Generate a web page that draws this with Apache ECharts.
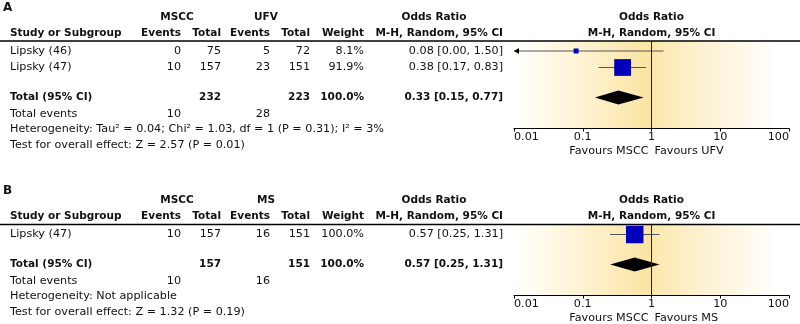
<!DOCTYPE html>
<html>
<head>
<meta charset="utf-8">
<script src="https://cdn.jsdelivr.net/npm/echarts@6/dist/echarts.min.js"></script>
<style>
html, body { margin: 0; padding: 0; background: #fff; }
#chart { width: 800px; height: 324px; }
</style>
</head>
<body>
<div id="chart"></div>
<script>
// ---- panel A: MSCC vs UFV ----
const studiesA = ['Lipsky (46)', 'Lipsky (47)'];
const msccEventsA = [0, 10];
const msccTotalA = [75, 157];
const ufvEventsA = [5, 23];
const ufvTotalA = [72, 151];
const weightA = [8.1, 91.9];
const orA = [0.08, 0.38];
const lowerA = [0.00, 0.17];
const upperA = [1.50, 0.83];
const pooledA = [0.33, 0.15, 0.77];
const sumTotalA = [232, 223];
const sumEventsA = [10, 28];
const hetA = 'Heterogeneity: Tau² = 0.04; Chi² = 1.03, df = 1 (P = 0.31); I² = 3%';
const testA = 'Test for overall effect: Z = 2.57 (P = 0.01)';

// ---- panel B: MSCC vs MS ----
const studiesB = ['Lipsky (47)'];
const msccEventsB = [10];
const msccTotalB = [157];
const msEventsB = [16];
const msTotalB = [151];
const weightB = [100.0];
const orB = [0.57];
const lowerB = [0.25];
const upperB = [1.31];
const pooledB = [0.57, 0.25, 1.31];
const sumTotalB = [157, 151];
const sumEventsB = [10, 16];
const hetB = 'Heterogeneity: Not applicable';
const testB = 'Test for overall effect: Z = 1.32 (P = 0.19)';

const axisTicks = [0.01, 0.1, 1, 10, 100];

const AXIS_MIN = 0.01, AXIS_MAX = 100;
const PLOT_LEFT = 514, PLOT_WIDTH = 275;
const FONT = '11.2px "DejaVu Sans", sans-serif';
const BOLD = 'bold 10.5px "DejaVu Sans", sans-serif';

// column x positions (right aligned)
const COL = { study: 10, ev1: 181, tot1: 221, ev2: 270, tot2: 310, weight: 364, or: 503 };

const panels = [
    {
        letter: 'A', ruleY: 41, group2: 'UFV',
        studies: studiesA, ev1: msccEventsA, tot1: msccTotalA, ev2: ufvEventsA, tot2: ufvTotalA,
        weight: weightA, or: orA, lo: lowerA, hi: upperA, pooled: pooledA,
        sumTotal: sumTotalA, sumEvents: sumEventsA, het: hetA, test: testA
    },
    {
        letter: 'B', ruleY: 224.5, group2: 'MS',
        studies: studiesB, ev1: msccEventsB, tot1: msccTotalB, ev2: msEventsB, tot2: msTotalB,
        weight: weightB, or: orB, lo: lowerB, hi: upperB, pooled: pooledB,
        sumTotal: sumTotalB, sumEvents: sumEventsB, het: hetB, test: testB
    }
];

function fmt2(v) { return v.toFixed(2); }
function ciText(or, lo, hi) { return fmt2(or) + ' [' + fmt2(lo) + ', ' + fmt2(hi) + ']'; }

function txt(x, y, text, align, font) {
    return {
        type: 'text', x: x, y: y, silent: true,
        style: {
            text: text, font: font || FONT, fill: '#111',
            align: align || 'left', verticalAlign: 'middle',
            textAlign: align || 'left', textVerticalAlign: 'middle'
        }
    };
}

function renderStudy(params, api) {
    const or = api.value(0), lo = api.value(1), hi = api.value(2), yOff = api.value(3), w = api.value(4);
    const cs = params.coordSys;
    const y = api.coord([1, yOff])[1];
    const clipLo = lo < AXIS_MIN, clipHi = hi > AXIS_MAX;
    const xLo = clipLo ? cs.x : api.coord([lo, yOff])[0];
    const xHi = clipHi ? cs.x + cs.width : api.coord([hi, yOff])[0];
    const xm = api.coord([or, yOff])[0];
    const s = 17.5 * Math.sqrt(w / 100);
    const children = [
        { type: 'line', shape: { x1: xLo, y1: y, x2: xHi, y2: y }, style: { stroke: '#555', lineWidth: 1 } },
        { type: 'rect', shape: { x: xm - s / 2, y: y - s / 2, width: s, height: s }, style: { fill: '#0000bb' } }
    ];
    if (clipLo) {
        children.push({ type: 'polygon', shape: { points: [[xLo, y], [xLo + 5, y - 3], [xLo + 5, y + 3]] }, style: { fill: '#000' } });
    }
    if (clipHi) {
        children.push({ type: 'polygon', shape: { points: [[xHi, y], [xHi - 5, y - 3], [xHi - 5, y + 3]] }, style: { fill: '#000' } });
    }
    return { type: 'group', children: children };
}

function renderPooled(params, api) {
    const yOff = api.value(3);
    const y = api.coord([1, yOff])[1];
    const xm = api.coord([api.value(0), yOff])[0];
    const xLo = api.coord([api.value(1), yOff])[0];
    const xHi = api.coord([api.value(2), yOff])[0];
    return {
        type: 'polygon',
        shape: { points: [[xLo, y], [xm, y - 7], [xHi, y], [xm, y + 7]] },
        style: { fill: '#000' }
    };
}

const grids = [], xAxes = [], yAxes = [], series = [], graphics = [];

panels.forEach(function (p, k) {
    const rowY = p.studies.map(function (_, i) { return p.ruleY + 10 + 16.5 * i; });
    const totalY = rowY[rowY.length - 1] + 30;
    const axisY = totalY + 31;
    const h = axisY - p.ruleY;

    grids.push({
        left: PLOT_LEFT, width: PLOT_WIDTH, top: p.ruleY, height: h,
        show: true, borderWidth: 0,
        backgroundColor: new echarts.graphic.LinearGradient(0, 0, 1, 0, [
            { offset: 0, color: '#ffffff' },
            { offset: 0.08, color: '#fffbf0' },
            { offset: 0.28, color: '#fdf1cc' },
            { offset: 0.49, color: '#fbe4a2' },
            { offset: 0.52, color: '#fce9b2' },
            { offset: 0.7, color: '#fdf2d4' },
            { offset: 0.88, color: '#fffbf1' },
            { offset: 0.96, color: '#ffffff' },
            { offset: 1, color: '#ffffff' }
        ])
    });
    xAxes.push({
        gridIndex: k, type: 'log', logBase: 10, min: AXIS_MIN, max: AXIS_MAX, position: 'bottom',
        axisLine: { show: true, onZero: false, lineStyle: { color: '#000', width: 1 } },
        axisTick: { show: true, length: 3, lineStyle: { color: '#000' } },
        axisLabel: {
            color: '#111', fontSize: 11.2, fontFamily: 'DejaVu Sans', margin: 3,
            showMinLabel: true, showMaxLabel: true,
            alignMinLabel: 'left', alignMaxLabel: 'right',
            formatter: function (v) {
                const t = axisTicks.find(function (a) { return Math.abs(a - v) / a < 1e-6; });
                return t === undefined ? '' : String(t);
            }
        },
        splitLine: { show: false },
        minorTick: { show: false }
    });
    yAxes.push({ gridIndex: k, type: 'value', min: 0, max: h, inverse: true, show: false });

    const studyData = p.studies.map(function (_, i) {
        return [p.or[i], p.lo[i], p.hi[i], rowY[i] - p.ruleY, p.weight[i]];
    });
    series.push({
        type: 'custom', xAxisIndex: k, yAxisIndex: k, renderItem: renderStudy,
        data: studyData, clip: false, silent: true, encode: { x: 0, y: 3 },
        markLine: {
            silent: true, symbol: 'none', label: { show: false },
            lineStyle: { color: '#222', width: 1, type: 'solid' },
            data: [{ xAxis: 1 }]
        }
    });
    series.push({
        type: 'custom', xAxisIndex: k, yAxisIndex: k, renderItem: renderPooled,
        data: [[p.pooled[0], p.pooled[1], p.pooled[2], totalY - p.ruleY]],
        clip: false, silent: true, encode: { x: 0, y: 3 }
    });

    // table text
    const h1 = p.ruleY - 24, h2 = p.ruleY - 8;
    const cx = PLOT_LEFT + PLOT_WIDTH / 2;
    graphics.push(txt(3, p.ruleY - 33.5, p.letter, 'left', 'bold 12px "DejaVu Sans", sans-serif'));
    graphics.push(txt(177, h1, 'MSCC', 'center', BOLD));
    graphics.push(txt(266, h1, p.group2, 'center', BOLD));
    graphics.push(txt(434, h1, 'Odds Ratio', 'center', BOLD));
    graphics.push(txt(cx, h1, 'Odds Ratio', 'center', BOLD));
    graphics.push(txt(COL.study, h2, 'Study or Subgroup', 'left', BOLD));
    graphics.push(txt(COL.ev1, h2, 'Events', 'right', BOLD));
    graphics.push(txt(COL.tot1, h2, 'Total', 'right', BOLD));
    graphics.push(txt(COL.ev2, h2, 'Events', 'right', BOLD));
    graphics.push(txt(COL.tot2, h2, 'Total', 'right', BOLD));
    graphics.push(txt(COL.weight, h2, 'Weight', 'right', BOLD));
    graphics.push(txt(COL.or, h2, 'M-H, Random, 95% CI', 'right', BOLD));
    graphics.push(txt(cx, h2, 'M-H, Random, 95% CI', 'center', BOLD));
    graphics.push({
        type: 'line', silent: true,
        shape: { x1: 0, y1: p.ruleY, x2: 800, y2: p.ruleY },
        style: { stroke: '#000', lineWidth: 1.5 }
    });

    p.studies.forEach(function (name, i) {
        const y = rowY[i];
        graphics.push(txt(COL.study, y, name));
        graphics.push(txt(COL.ev1, y, String(p.ev1[i]), 'right'));
        graphics.push(txt(COL.tot1, y, String(p.tot1[i]), 'right'));
        graphics.push(txt(COL.ev2, y, String(p.ev2[i]), 'right'));
        graphics.push(txt(COL.tot2, y, String(p.tot2[i]), 'right'));
        graphics.push(txt(COL.weight, y, p.weight[i].toFixed(1) + '%', 'right'));
        graphics.push(txt(COL.or, y, ciText(p.or[i], p.lo[i], p.hi[i]), 'right'));
    });

    graphics.push(txt(COL.study, totalY, 'Total (95% CI)', 'left', BOLD));
    graphics.push(txt(COL.tot1, totalY, String(p.sumTotal[0]), 'right', BOLD));
    graphics.push(txt(COL.tot2, totalY, String(p.sumTotal[1]), 'right', BOLD));
    graphics.push(txt(COL.weight, totalY, '100.0%', 'right', BOLD));
    graphics.push(txt(COL.or, totalY, ciText(p.pooled[0], p.pooled[1], p.pooled[2]), 'right', BOLD));

    graphics.push(txt(COL.study, totalY + 17, 'Total events'));
    graphics.push(txt(COL.ev1, totalY + 17, String(p.sumEvents[0]), 'right'));
    graphics.push(txt(COL.ev2, totalY + 17, String(p.sumEvents[1]), 'right'));
    graphics.push(txt(COL.study, totalY + 32, p.het));
    graphics.push(txt(COL.study, totalY + 47.5, p.test));

    graphics.push(txt(cx - 3, axisY + 23, 'Favours MSCC', 'right'));
    graphics.push(txt(cx + 3, axisY + 23, 'Favours ' + p.group2, 'left'));
});

const chart = echarts.init(document.getElementById('chart'), null, { renderer: 'canvas' });
chart.setOption({
    animation: false,
    backgroundColor: '#fff',
    grid: grids,
    xAxis: xAxes,
    yAxis: yAxes,
    series: series,
    graphic: { elements: graphics }
});
</script>
</body>
</html>
